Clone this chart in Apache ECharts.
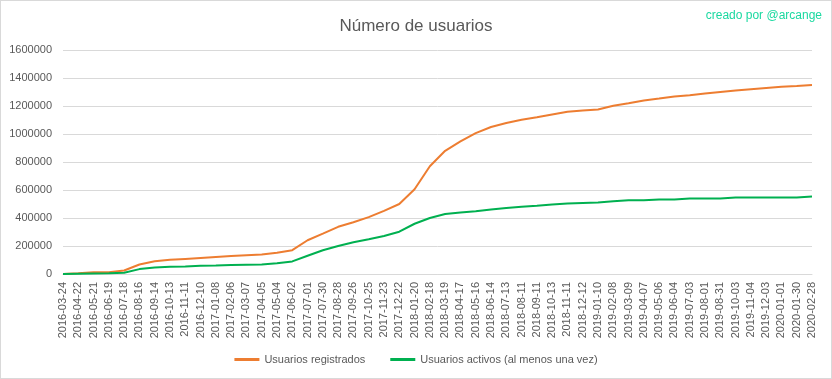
<!DOCTYPE html>
<html>
<head>
<meta charset="utf-8">
<script src="https://cdn.jsdelivr.net/npm/echarts@6/dist/echarts.min.js"></script>
<style>
html,body{margin:0;padding:0;background:#fff;}
#chart{width:832px;height:379px;box-sizing:border-box;border:1px solid #d9d9d9;}
</style>
</head>
<body>
<div id="chart"></div>
<script>
const categories = ["2016-03-24","2016-04-22","2016-05-21","2016-06-19","2016-07-18","2016-08-16","2016-09-14","2016-10-13","2016-11-11","2016-12-10",
"2017-01-08","2017-02-06","2017-03-07","2017-04-05","2017-05-04","2017-06-02","2017-07-01","2017-07-30","2017-08-28","2017-09-26","2017-10-25","2017-11-23","2017-12-22",
"2018-01-20","2018-02-18","2018-03-19","2018-04-17","2018-05-16","2018-06-14","2018-07-13","2018-08-11","2018-09-11","2018-10-13","2018-11-11","2018-12-12",
"2019-01-10","2019-02-08","2019-03-09","2019-04-07","2019-05-06","2019-06-04","2019-07-03","2019-08-01","2019-08-31","2019-10-03","2019-11-04","2019-12-03",
"2020-01-01","2020-01-30","2020-02-28"];

const registrados = [0,5000,12000,13000,25000,68000,91000,101000,108000,115000,
122000,128000,134000,139000,151000,170000,241000,288000,337000,370000,406000,451000,500000,
605000,770000,880000,947000,1006000,1050000,1078000,1102000,1119000,1140000,1159000,1168000,
1175000,1202000,1220000,1240000,1253000,1268000,1277000,1289000,1300000,1310000,1319000,1328000,
1337000,1343000,1350000];

const activos = [0,2000,4000,5000,9000,35000,47000,52000,54000,59000,
60000,64000,66000,68000,76000,90000,130000,170000,200000,227000,248000,271000,302000,
359000,400000,428000,440000,448000,460000,472000,481000,488000,496000,503000,508000,
510000,519000,526000,526000,533000,533000,540000,540000,540000,547000,547000,547000,
547000,547000,554000];

const seriesNames = ["Usuarios registrados","Usuarios activos (al menos una vez)"];
const titleText = "Número de usuarios";
const creditText = "creado por @arcange";

const chart = echarts.init(document.getElementById('chart'), null, {renderer:'canvas'});
const font = "'Liberation Sans', Arial, sans-serif";
chart.setOption({
  animation:false,
  backgroundColor:'#fff',
  textStyle:{fontFamily:font},
  title:{text:titleText,left:'center',top:12,textStyle:{fontSize:17,fontWeight:'normal',color:'#595959',fontFamily:font}},
  graphic:[{type:'text',right:9,top:9,style:{text:creditText,fontSize:12,fill:'#1AD9A0',fontFamily:font}}],
  grid:{left:62,right:19,top:49,bottom:104,containLabel:false},
  legend:{top:348,left:'center',icon:'rect',itemWidth:25,itemHeight:3,itemGap:25,
    textStyle:{fontSize:11,color:'#595959',fontFamily:font},data:seriesNames},
  xAxis:{type:'category',data:categories,boundaryGap:false,
    axisLine:{lineStyle:{color:'#d9d9d9'}},axisTick:{show:false},
    axisLabel:{rotate:90,interval:0,fontSize:11,color:'#595959',margin:8,fontFamily:font},
    splitLine:{show:false}},
  yAxis:{type:'value',min:0,max:1600000,interval:200000,
    axisLine:{show:false},axisTick:{show:false},
    axisLabel:{fontSize:11,color:'#595959',margin:11,fontFamily:font,formatter:function(v){return String(v);}},
    splitLine:{lineStyle:{color:'#d9d9d9',width:1}}},
  series:[
    {name:seriesNames[0],type:'line',data:registrados,showSymbol:false,symbol:'none',
     lineStyle:{color:'#ED7D31',width:2},itemStyle:{color:'#ED7D31'}},
    {name:seriesNames[1],type:'line',data:activos,showSymbol:false,symbol:'none',
     lineStyle:{color:'#00B050',width:2},itemStyle:{color:'#00B050'}}
  ]
});
</script>
</body>
</html>
